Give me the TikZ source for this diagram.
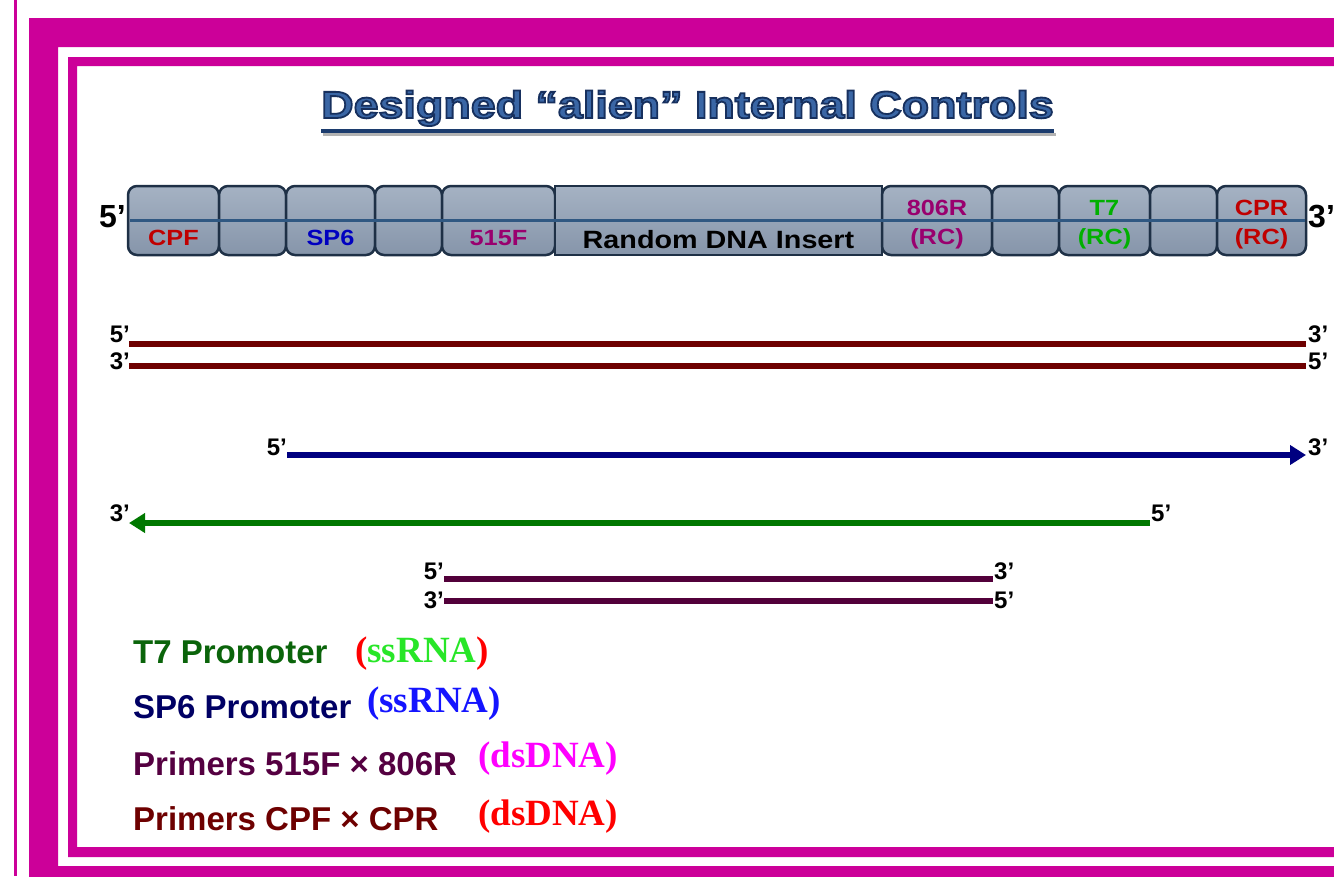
\documentclass[tikz,border=0pt]{standalone}
\usepackage{fontspec}
\setmainfont{Liberation Sans}
\newfontfamily\serifface{Liberation Serif}
\newfontfamily\widesans{Liberation Sans}[FakeStretch=1.15]
\newfontfamily\titlesans{Liberation Sans}[FakeStretch=1.18]
\usetikzlibrary{arrows.meta}
\newcommand\pxsize[1]{\fontsize{#1}{#1}\selectfont}
% outlined text: fill with the current colour, stroke in dark blue
\newcommand\outlined[1]{\special{pdf:literal direct 0.09 0.19 0.37 RG 1.8 w 2 Tr}#1\special{pdf:literal direct 0 Tr}}

\definecolor{frame}{RGB}{204,0,153}
\definecolor{boxedge}{RGB}{30,48,70}
\definecolor{boxtop}{RGB}{165,178,195}
\definecolor{boxbot}{RGB}{134,149,170}
\definecolor{midline}{RGB}{48,88,130}
\definecolor{cpred}{RGB}{192,0,0}
\definecolor{spblue}{RGB}{0,0,192}
\definecolor{prpurple}{RGB}{153,0,110}
\definecolor{tgreen}{RGB}{0,176,0}
\definecolor{dsred}{RGB}{110,0,0}
\definecolor{ssblue}{RGB}{0,0,128}
\definecolor{ssgreen}{RGB}{0,120,0}
\definecolor{dspurple}{RGB}{82,0,58}
\definecolor{titlefill}{RGB}{58,102,165}
\definecolor{titleline}{RGB}{28,60,110}
\definecolor{legT}{RGB}{10,100,10}
\definecolor{legS}{RGB}{0,0,100}
\definecolor{legP}{RGB}{85,0,65}
\definecolor{legC}{RGB}{110,0,0}
\definecolor{brightgreen}{RGB}{40,230,40}
\definecolor{brightblue}{RGB}{20,20,255}
\definecolor{brightmagenta}{RGB}{255,0,255}
\definecolor{brightred}{RGB}{255,0,0}

\tikzset{
  seg/.style={draw=boxedge, line width=2.5pt, rounded corners=9pt,
    top color=boxtop, bottom color=boxbot, minimum height=69pt,
    inner sep=0pt, outer sep=0pt, anchor=north west},
  boxlab/.style={font=\widesans\bfseries\pxsize{22}, anchor=base, inner sep=0pt},
  tag/.style={font=\bfseries\pxsize{24}, inner sep=0pt},
  bigtag/.style={font=\bfseries\pxsize{32}, inner sep=0pt},
  strand/.style={line width=5.5pt},
  legend/.style={font=\bfseries\pxsize{33}, inner sep=0pt, anchor=base west},
  paren/.style={font=\serifface\bfseries\pxsize{37}, inner sep=0pt, anchor=base west},
  tip/.style={-{Triangle[length=16pt,width=19pt]}}
}

\begin{document}
\begin{tikzpicture}[x=1pt,y=-1pt]
\useasboundingbox (0,0) rectangle (1334,876);
\clip (0,0) rectangle (1334,876);
\fill[white] (0,0) rectangle (1334,876);

% page frame
\fill[frame] (14,0) rectangle (16.5,876);
\fill[frame, even odd rule] (29,18) rectangle (1400,920) (58,47) rectangle (1380,866);
\fill[frame, even odd rule] (68,57) rectangle (1390,857) (77,66) rectangle (1370,847);

% title with underline and its shadow
\node[font=\titlesans\bfseries\pxsize{38}, text=titlefill, anchor=base, inner sep=0pt]
  (title) at (687.5,118) {\outlined{Designed “alien” Internal Controls}};
\draw[black!30, line width=3pt] ([xshift=2pt,yshift=-16pt]title.base west) -- ([xshift=2pt,yshift=-16pt]title.base east);
\draw[titleline, line width=4pt] ([yshift=-13pt]title.base west) -- ([yshift=-13pt]title.base east);

% construct segments
\node[seg, minimum width=91pt]  (cpf)  at (128,186) {};
\node[seg, minimum width=67pt]  (g1)   at (219,186) {};
\node[seg, minimum width=89pt]  (sp6)  at (286,186) {};
\node[seg, minimum width=67pt]  (g2)   at (375,186) {};
\node[seg, minimum width=113pt] (f515) at (442,186) {};
\node[seg, rounded corners=0pt, minimum width=327pt] (ins) at (555,186) {};
\node[seg, minimum width=110pt] (r806) at (882,186) {};
\node[seg, minimum width=67pt]  (g3)   at (992,186) {};
\node[seg, minimum width=91pt]  (t7)   at (1059,186) {};
\node[seg, minimum width=67pt]  (g4)   at (1150,186) {};
\node[seg, minimum width=89pt]  (cpr)  at (1217,186) {};
\draw[midline, line width=3pt] ([xshift=1.5pt]cpf.west) -- ([xshift=-1.5pt]cpr.east);

\node[boxlab, text=cpred]    at (cpf.center |- 0,245)  {CPF};
\node[boxlab, text=spblue]   at (sp6.center |- 0,245)  {SP6};
\node[boxlab, text=prpurple] at (f515.center |- 0,245) {515F};
\node[boxlab, font=\widesans\bfseries\pxsize{25}] at (ins.center |- 0,248) {Random DNA Insert};
\node[boxlab, text=prpurple] at (r806.center |- 0,215) {806R};
\node[boxlab, text=prpurple] at (r806.center |- 0,244) {(RC)};
\node[boxlab, text=tgreen]   at (t7.center |- 0,215)   {T7};
\node[boxlab, text=tgreen]   at (t7.center |- 0,244)   {(RC)};
\node[boxlab, text=cpred]    at (cpr.center |- 0,215)  {CPR};
\node[boxlab, text=cpred]    at (cpr.center |- 0,244)  {(RC)};

\node[bigtag, anchor=base east] (c5) at (126,227) {5’};
\node[bigtag, anchor=base west] (c3) at (1308,227) {3’};

% double strand, full length
\coordinate (a1) at (129,344); \coordinate (a2) at (1306,344);
\coordinate (b1) at (129,366); \coordinate (b2) at (1306,366);
\draw[strand, dsred] (a1) -- (a2);
\draw[strand, dsred] (b1) -- (b2);
\node[tag, anchor=base east] at (130,342) {5’};
\node[tag, anchor=base west] at (1308,342) {3’};
\node[tag, anchor=base east] at (130,369) {3’};
\node[tag, anchor=base west] at (1308,369) {5’};

% SP6 transcript
\coordinate (s1) at (287,455); \coordinate (s2) at (1306,455);
\draw[strand, ssblue, tip] (s1) -- (s2);
\node[tag, anchor=base east] at (287,455) {5’};
\node[tag, anchor=base west] at (1308,455) {3’};

% T7 transcript
\coordinate (t1) at (1150,523); \coordinate (t2) at (129,523);
\draw[strand, ssgreen, tip] (t1) -- (t2);
\node[tag, anchor=base east] at (130,521) {3’};
\node[tag, anchor=base west] at (1151,521) {5’};

% 515F x 806R amplicon
\coordinate (p1) at (444,579); \coordinate (p2) at (993,579);
\coordinate (q1) at (444,601); \coordinate (q2) at (993,601);
\draw[strand, dspurple] (p1) -- (p2);
\draw[strand, dspurple] (q1) -- (q2);
\node[tag, anchor=base east] at (444,579) {5’};
\node[tag, anchor=base west] at (994,579) {3’};
\node[tag, anchor=base east] at (444,608) {3’};
\node[tag, anchor=base west] at (994,608) {5’};

% legend
\node[legend, text=legT] (l1) at (133,663) {T7 Promoter};
\node[paren] (k1) at (355,662) {\textcolor{brightred}{(}\textcolor{brightgreen}{ssRNA}\textcolor{brightred}{)}};
\node[legend, text=legS] (l2) at (133,718) {SP6 Promoter};
\node[paren, text=brightblue] (k2) at (367,712) {(ssRNA)};
\node[legend, text=legP] (l3) at (133,775) {Primers 515F × 806R};
\node[paren, text=brightmagenta] (k3) at (478,767) {(dsDNA)};
\node[legend, text=legC] (l4) at (133,830) {Primers CPF × CPR};
\node[paren, text=brightred] (k4) at (478,825) {(dsDNA)};
\end{tikzpicture}
\end{document}
